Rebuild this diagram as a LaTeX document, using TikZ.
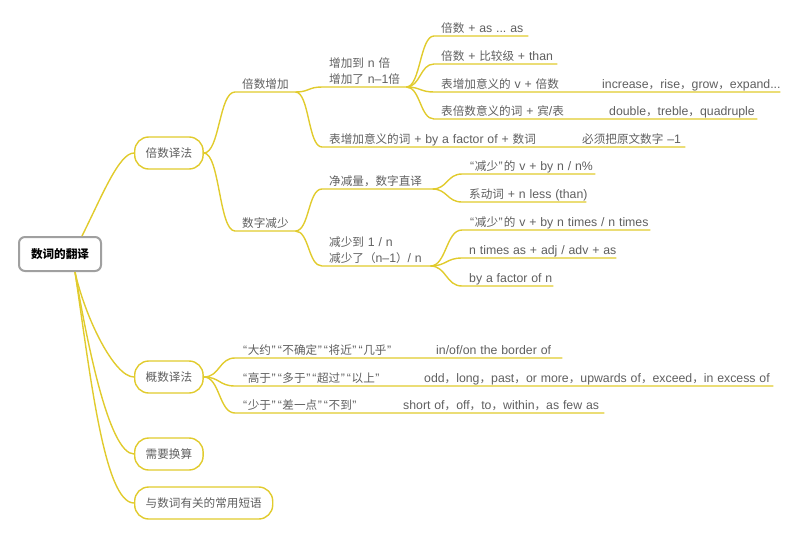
\documentclass[tikz,border=0pt]{standalone}
\usepackage{fontspec}
\setmainfont{Noto Sans CJK SC}
\newfontfamily\latfont[Scale=1.06]{Liberation Sans}
\newcommand\latn[1]{{\latfont\relax#1}}
\newcommand\qo{{\latfont\kern1pt“\kern0.6pt}}
\newcommand\qc{{\latfont\kern0.6pt”\kern1pt}}
\definecolor{ylw}{RGB}{225,203,45}
\definecolor{tg}{RGB}{95,95,95}
\definecolor{rootgray}{RGB}{160,160,160}
\frenchspacing
\begin{document}
\begin{tikzpicture}[x=1pt,y=-1pt,
  every node/.style={font=\fontsize{11.6}{16}\selectfont\frenchspacing},
  br/.style={draw=ylw, line width=1.4pt},
  lf/.style={anchor=south west, inner xsep=7pt, inner ysep=1pt, text width=#1, align=left, text height=9pt, text depth=2.5pt, text=tg},
  lftwo/.style={lf=#1, text depth=18.5pt},
  topic/.style={draw=ylw, line width=1.4pt, rounded corners=14pt, minimum height=32pt, inner xsep=11pt, text=tg, anchor=west, fill=white},
  rootbox/.style={draw=rootgray, line width=2pt, rounded corners=6pt, minimum width=82pt, minimum height=34pt, fill=white, text=black, font=\fontsize{11.6}{16}\selectfont\bfseries}
]
\useasboundingbox (0,0) rectangle (800,539);

% root and main topics
\node[rootbox] (root) at (60,254) {数词的翻译};
\node[topic] (b1) at (134,153) {倍数译法};
\node[topic] (b2) at (134,377) {概数译法};
\node[topic] (b3) at (134,454) {需要换算};
\node[topic] (b4) at (134,503) {与数词有关的常用短语};

% second level
\node[lf=46] (c1) at (235,92) {\mbox{倍数增加}};
\node[lf=46] (c2) at (235,231) {\mbox{数字减少}};

% third level
\node[lftwo=70] (d1) at (322,87) {\mbox{增加到\latn{ n }倍}\\\mbox{增加了\latn{ n–1}倍}};
\node[lf=349] (d2) at (322,147) {\mbox{\makebox[253pt][l]{表增加意义的词\latn{ + by a factor of + }数词}必须把原文数字\latn{ –1}}};
\node[lf=96] (d3) at (322,189) {\mbox{净减量，数字直译}};
\node[lftwo=94] (d4) at (322,266) {\mbox{减少到\latn{ 1 / n}}\\\mbox{减少了（\latn{n–1}）\latn{/ n}}};

% leaves
\node[lf=80] (e1) at (434,36) {\mbox{倍数\latn{ + as ... as}}};
\node[lf=109] (e2) at (434,64) {\mbox{倍数\latn{ + }比较级\latn{ + than}}};
\node[lf=332] (e3) at (434,92) {\mbox{\makebox[161pt][l]{表增加意义的\latn{ v + }倍数}\latn{increase}，\latn{rise}，\latn{grow}，\latn{expand...}}};
\node[lf=309] (e4) at (434,119) {\mbox{\makebox[168pt][l]{表倍数意义的词\latn{ + }宾\latn{/}表}\latn{double}，\latn{treble}，\latn{quadruple}}};

\node[lf=119] (f1) at (462,174) {\mbox{\qo 减少\qc 的\latn{ v + by n / n\%}}};
\node[lf=110] (f2) at (462,202) {\mbox{系动词\latn{ + n less (than)}}};

\node[lf=174] (g1) at (462,230) {\mbox{\qo 减少\qc 的\latn{ v + by n times / n times}}};
\node[lf=140] (g2) at (462,258) {\mbox{\latn{n times as + adj / adv + as}}};
\node[lf=77] (g3) at (462,286) {\mbox{\latn{by a factor of n}}};

\node[lf=313] (h1) at (235,358) {\mbox{\makebox[194pt][l]{\qo 大约\qc\qo 不确定\qc\qo 将近\qc\qo 几乎\qc}\latn{in/of/on the border of}}};
\node[lf=524] (h2) at (235,386) {\mbox{\makebox[182pt][l]{\qo 高于\qc\qo 多于\qc\qo 超过\qc\qo 以上\qc}\latn{odd}，\latn{long}，\latn{past}，\latn{or more}，\latn{upwards of}，\latn{exceed}，\latn{in excess of}}};
\node[lf=355] (h3) at (235,413) {\mbox{\makebox[161pt][l]{\qo 少于\qc\qo 差一点\qc\qo 不到\qc}\latn{short of}，\latn{off}，\latn{to}，\latn{within}，\latn{as few as}}};

% root connectors
\draw[br] ([xshift=22pt]root.north) .. controls +(20,-40) and +(-15,0) .. (b1.west);
\draw[br] ([xshift=15pt]root.south) .. controls +(10,45) and +(-20,0) .. (b2.west);
\draw[br] ([xshift=15pt]root.south) .. controls +(12,70) and +(-25,0) .. (b3.west);
\draw[br] ([xshift=15pt]root.south) .. controls +(15,100) and +(-30,0) .. (b4.west);

% level 1 -> 2
\draw[br] (b1.east) .. controls +(16,0) and +(-16,0) .. (c1.south west) -- (c1.south east);
\draw[br] (b1.east) .. controls +(16,0) and +(-16,0) .. (c2.south west) -- (c2.south east);

% level 2 -> 3
\draw[br] (c1.south east) .. controls +(14,0) and +(-14,0) .. (d1.south west) -- (d1.south east);
\draw[br] (c1.south east) .. controls +(14,0) and +(-14,0) .. (d2.south west) -- (d2.south east);
\draw[br] (c2.south east) .. controls +(14,0) and +(-14,0) .. (d3.south west) -- (d3.south east);
\draw[br] (c2.south east) .. controls +(14,0) and +(-14,0) .. (d4.south west) -- (d4.south east);

% level 3 -> leaves
\foreach \e in {e1,e2,e3,e4}
  \draw[br] (d1.south east) .. controls +(14,0) and +(-14,0) .. (\e.south west) -- (\e.south east);
\foreach \e in {f1,f2}
  \draw[br] (d3.south east) .. controls +(15,0) and +(-15,0) .. (\e.south west) -- (\e.south east);
\foreach \e in {g1,g2,g3}
  \draw[br] (d4.south east) .. controls +(16,0) and +(-16,0) .. (\e.south west) -- (\e.south east);
\foreach \e in {h1,h2,h3}
  \draw[br] (b2.east) .. controls +(16,0) and +(-16,0) .. (\e.south west) -- (\e.south east);
\end{tikzpicture}
\end{document}
